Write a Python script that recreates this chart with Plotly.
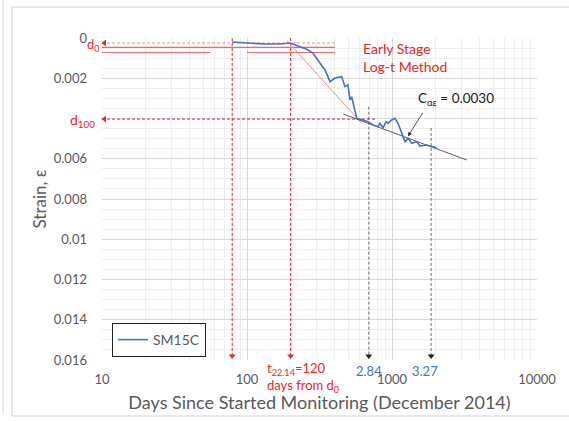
import numpy as np
import plotly.graph_objects as go

# ---- data ----
days = [79, 105, 133, 169, 198, 258, 285, 318, 345, 374, 404, 450, 474, 497, 513, 527,
        571, 631, 683, 740, 800, 827, 867, 910, 938, 995, 1049, 1100, 1167, 1230, 1290,
        1368, 1480, 1560, 1734, 1918, 2033]
strain = [0.00020, 0.00025, 0.00030, 0.00030, 0.00025, 0.00056, 0.00075, 0.00124, 0.00159,
          0.00217, 0.00199, 0.00192, 0.00242, 0.00234, 0.00308, 0.00292, 0.00399, 0.00407,
          0.00416, 0.00432, 0.00441, 0.00424, 0.00447, 0.00416, 0.00424, 0.00407, 0.00399,
          0.00424, 0.00474, 0.00515, 0.00498, 0.00523, 0.00515, 0.00537, 0.00532, 0.00540,
          0.00545]

y_ticks = [0, 0.002, 0.004, 0.006, 0.008, 0.01, 0.012, 0.014, 0.016]
y_ticktext = ["0", "0.002", "", "0.006", "0.008", "0.01", "0.012", "0.014", "0.016"]
x_ticks = [10, 100, 1000, 10000]

d0 = 0.00025
d100 = 0.00403
t_d0 = 79
t_120 = 200
t_284 = 10 ** 2.84
t_327 = 10 ** 3.27
early_line_x = [188, 618]
early_line_y = [0.000134, 0.00424]
calpha_line_x = [461, 3273]
calpha_line_y = [0.00378, 0.00606]
top_lines = [([10, 404], [0.00047, 0.00047]),
             ([10, 56], [0.00072, 0.00072]),
             ([100, 404], [0.00072, 0.00072])]

RED = "#e8262b"
BLUE = "#4472c4"
GRAY = "#595959"
FONT = "Lato"
FINE_DASH = "3px,2px"

fig = go.Figure()

# construction lines
for xs, ys in top_lines:
    fig.add_trace(go.Scatter(x=xs, y=ys, mode="lines", line=dict(color="rgba(220,60,60,0.75)", width=1.2),
                             showlegend=False, hoverinfo="skip"))
fig.add_trace(go.Scatter(x=[10, 404], y=[d0, d0], mode="lines",
                         line=dict(color="rgba(232,38,43,0.55)", width=1, dash=FINE_DASH), showlegend=False))
fig.add_trace(go.Scatter(x=[10, 764], y=[d100, d100], mode="lines",
                         line=dict(color=RED, width=1, dash=FINE_DASH), showlegend=False))
for tx in [t_d0, t_120]:
    fig.add_trace(go.Scatter(x=[tx, tx], y=[0, 0.0159], mode="lines",
                             line=dict(color=RED, width=1, dash=FINE_DASH), showlegend=False))
fig.add_trace(go.Scatter(x=[t_284, t_284], y=[0.00341, 0.0159], mode="lines",
                         line=dict(color="#707070", width=1, dash=FINE_DASH), showlegend=False))
fig.add_trace(go.Scatter(x=[t_327, t_327], y=[0.00447, 0.0159], mode="lines",
                         line=dict(color="#707070", width=1, dash=FINE_DASH), showlegend=False))
fig.add_trace(go.Scatter(x=early_line_x, y=early_line_y, mode="lines",
                         line=dict(color="#f08a84", width=1), showlegend=False))
fig.add_trace(go.Scatter(x=calpha_line_x, y=calpha_line_y, mode="lines",
                         line=dict(color="#303030", width=0.8), showlegend=False))

# arrowheads
fig.add_trace(go.Scatter(x=[10.4, 10.4], y=[d0, d100], mode="markers",
                         marker=dict(symbol="triangle-left", size=6, color=RED),
                         showlegend=False, cliponaxis=False))
fig.add_trace(go.Scatter(x=[t_d0, t_120], y=[0.0158, 0.0158], mode="markers",
                         marker=dict(symbol="triangle-down", size=6, color=RED),
                         showlegend=False, cliponaxis=False))
fig.add_trace(go.Scatter(x=[t_284, t_327], y=[0.0158, 0.0158], mode="markers",
                         marker=dict(symbol="triangle-down", size=6, color="#202020"),
                         showlegend=False, cliponaxis=False))

# main series
fig.add_trace(go.Scatter(x=days, y=strain, mode="lines", name="SM15C",
                         line=dict(color=BLUE, width=1.6)))

def px_x(px):
    return (px - 102) / 435

def px_y(py):
    return (360 - py) / 322

ann = []
ann.append(dict(text="Early Stage<br>Log-t Method", x=px_x(361), y=px_y(38), xref="paper", yref="paper",
                xanchor="left", yanchor="top", align="left", showarrow=False,
                font=dict(family=FONT, size=14, color=RED)))
ann.append(dict(text="C<sub>αε</sub> = 0.0030", x=px_x(416), y=px_y(99), xref="paper", yref="paper",
                xanchor="left", yanchor="middle", showarrow=False,
                font=dict(family=FONT, size=13.5, color="#202020")))
ann.append(dict(text="", x=np.log10(1290), y=0.00488, xref="x", yref="y",
                ax=np.log10(1650), ay=0.00365, axref="x", ayref="y",
                showarrow=True, arrowhead=2, arrowsize=1, arrowwidth=0.8, arrowcolor="#202020"))
ann.append(dict(text="2.84", x=np.log10(t_284), y=px_y(371), xref="x", yref="paper",
                xanchor="center", yanchor="middle", showarrow=False,
                font=dict(family=FONT, size=13, color=BLUE)))
ann.append(dict(text="3.27", x=np.log10(t_327) - 0.04, y=px_y(371), xref="x", yref="paper",
                xanchor="center", yanchor="middle", showarrow=False,
                font=dict(family=FONT, size=13, color=BLUE)))
ann.append(dict(text="t<sub>22.14</sub>=120<br>days from d<sub>0</sub>", x=px_x(265), y=px_y(358),
                xref="paper", yref="paper", xanchor="left", yanchor="top", align="left", showarrow=False,
                font=dict(family=FONT, size=13, color=RED)))
ann.append(dict(text="d<sub>0</sub>", x=px_x(102), y=px_y(45), xref="paper", yref="paper",
                xanchor="right", yanchor="middle", showarrow=False,
                font=dict(family=FONT, size=13, color=RED)))
ann.append(dict(text="d<sub>100</sub>", x=px_x(97), y=px_y(120), xref="paper", yref="paper",
                xanchor="right", yanchor="middle", showarrow=False,
                font=dict(family=FONT, size=14, color=RED)))
ann.append(dict(text="(c)", x=px_x(293), y=px_y(-6), xref="paper", yref="paper",
                xanchor="center", yanchor="bottom", showarrow=False,
                font=dict(family=FONT, size=20, color="#202020")))

shapes = [
    dict(type="rect", xref="paper", yref="paper", x0=px_x(12), x1=px_x(580), y0=px_y(416), y1=px_y(7),
         line=dict(color="#d0d0d0", width=1), layer="below"),
    dict(type="line", xref="paper", yref="paper", x0=px_x(3), x1=px_x(3), y0=px_y(413), y1=px_y(-5),
         line=dict(color="#d0d0d0", width=1)),
]

minor_x = [m * 10 ** e for e in [1, 2, 3] for m in range(2, 10)]

fig.update_layout(
    width=569, height=421,
    margin=dict(l=102, r=32, t=38, b=61),
    paper_bgcolor="white", plot_bgcolor="white",
    font=dict(family=FONT, color=GRAY),
    annotations=ann, shapes=shapes,
    showlegend=True,
    legend=dict(x=px_x(112), y=px_y(323), xanchor="left", yanchor="top",
                bordercolor="#202020", borderwidth=1, bgcolor="white",
                font=dict(family=FONT, size=14, color=GRAY), itemwidth=30,
                tracegroupgap=0),
)
fig.update_xaxes(type="log", range=[1, 4], tickvals=x_ticks, ticktext=["10", "100", "1000", "10000"],
                 showgrid=True, gridcolor="#d9d9d9", gridwidth=1, zeroline=False, showline=False,
                 tickfont=dict(family=FONT, size=13, color=GRAY), ticks="", ticklabelstandoff=10,
                 minor=dict(tickvals=minor_x, showgrid=True, gridcolor="#eeeeee", gridwidth=1),
                 title=dict(text="Days Since Started Monitoring (December 2014)",
                            font=dict(family=FONT, size=18, color=GRAY), standoff=10))
fig.update_yaxes(range=[0.016, 0], tickvals=y_ticks, ticktext=y_ticktext,
                 showgrid=True, gridcolor="#d9d9d9", gridwidth=1, zeroline=False, showline=False,
                 tickfont=dict(family=FONT, size=13, color=GRAY), ticks="", ticklabelstandoff=14,
                 minor=dict(dtick=0.0005, showgrid=True, gridcolor="#eeeeee", gridwidth=1),
                 title=dict(text="Strain, ε", font=dict(family=FONT, size=17, color=GRAY), standoff=2))

fig.write_html("out.html")
